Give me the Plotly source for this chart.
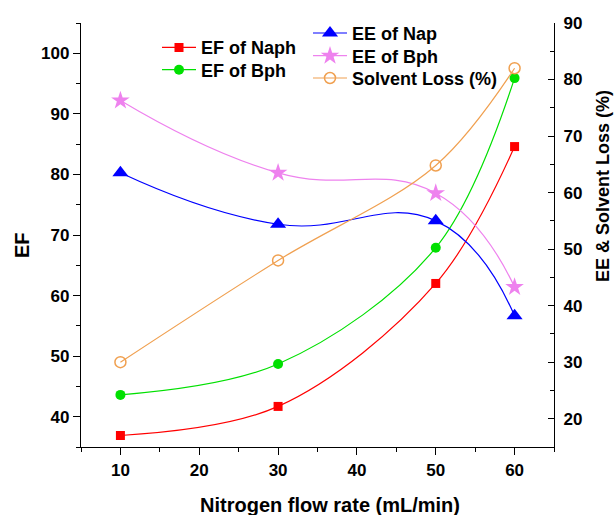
import plotly.graph_objects as go

flow = [10, 30, 50, 60]
ef_naph = [36.9, 41.7, 62.0, 84.6]
ef_bph = [43.6, 48.7, 67.9, 95.9]
ee_nap = [63.5, 54.4, 55.0, 38.2]
ee_bph = [76.3, 63.5, 59.9, 43.3]
solvent_loss = [30.0, 48.0, 64.8, 82.0]

x_ticks = [10, 20, 30, 40, 50, 60]
y1_ticks = [40, 50, 60, 70, 80, 90, 100]
y2_ticks = [20, 30, 40, 50, 60, 70, 80, 90]

W, H = 615, 515
L, R, T, B = 81, 554, 23, 447
FONT = "Liberation Sans, Arial, Helvetica, sans-serif"

fig = go.Figure()

def add(name, y, color, symbol, size, axis, legend, mline=None, smooth=1.0):
    fig.add_trace(go.Scatter(
        x=flow, y=y, name=name, mode="lines+markers", yaxis=axis, legend=legend,
        line=dict(color=color, width=1.2, shape="spline", smoothing=smooth),
        marker=dict(color=color, symbol=symbol, size=size,
                    line=dict(color=color, width=mline if mline else 0)),
    ))

add("EF of Naph", ef_naph, "#FF0000", "square", 9, "y", "legend")
add("EF of Bph", ef_bph, "#00E000", "circle", 10, "y", "legend2")
add("EE of Nap", ee_nap, "#0000FF", "triangle-up", 14, "y2", "legend3", smooth=1.3)
add("EE of Bph", ee_bph, "#EE82EE", "star", 14, "y2", "legend4", smooth=1.3)
add("Solvent Loss (%)", solvent_loss, "#F0A050", "circle-open", 11, "y2", "legend5", mline=1.5)

tickfont = dict(family=FONT, size=17, color="black", weight="bold")
legfont = dict(family=FONT, size=18, color="black", weight="bold")
titlefont = dict(family=FONT, size=20, color="black", weight="bold")

def px_x(px):
    return (px - L) / (R - L)

def px_y(py):
    return (B - py) / (B - T)

def leg(mx, my):
    return dict(x=px_x(mx - 20), y=px_y(my), xanchor="left", yanchor="middle",
                bgcolor="rgba(0,0,0,0)", font=legfont, itemwidth=34)

fig.update_layout(
    width=W, height=H,
    margin=dict(l=L, r=W - R, t=T, b=H - B, autoexpand=False),
    paper_bgcolor="white", plot_bgcolor="white",
    showlegend=True,
    xaxis=dict(range=[5, 65], tickvals=x_ticks, showgrid=False, zeroline=False,
               showline=True, linecolor="black", linewidth=1.3,
               ticks="outside", ticklen=7, tickwidth=1.3, tickcolor="black",
               tickfont=tickfont, automargin=False,
               minor=dict(ticks="outside", ticklen=4, tickwidth=1.3, tickcolor="black",
                          dtick=5, tick0=5, showgrid=False)),
    yaxis=dict(range=[35, 105], tickvals=y1_ticks, showgrid=False, zeroline=False,
               showline=True, linecolor="black", linewidth=1.3,
               ticks="outside", ticklen=7, tickwidth=1.3, tickcolor="black",
               tickfont=tickfont, automargin=False,
               minor=dict(ticks="outside", ticklen=4, tickwidth=1.3, tickcolor="black",
                          dtick=5, tick0=5, showgrid=False)),
    yaxis2=dict(range=[15, 90], tickvals=y2_ticks, overlaying="y", side="right",
                showgrid=False, zeroline=False, automargin=False,
                showline=True, linecolor="black", linewidth=1.3,
                ticks="inside", ticklen=6, tickwidth=1.3, tickcolor="black",
                tickfont=tickfont, ticklabelstandoff=5,
                minor=dict(ticks="inside", ticklen=4, tickwidth=1.3, tickcolor="black",
                           dtick=5, tick0=5, showgrid=False)),
    legend=leg(177, 47.7),
    legend2=leg(177, 70),
    legend3=leg(328, 33.3),
    legend4=leg(328, 56),
    legend5=leg(328, 78.3),
    annotations=[
        dict(text="EF", xref="paper", yref="paper", x=px_x(22), y=px_y(245),
             showarrow=False, textangle=-90, font=titlefont,
             xanchor="center", yanchor="middle"),
        dict(text="EE & Solvent Loss (%)", xref="paper", yref="paper",
             x=px_x(603), y=px_y(186), showarrow=False, textangle=-90,
             font=dict(family=FONT, size=18, color="black", weight="bold"),
             xanchor="center", yanchor="middle"),
        dict(text="Nitrogen flow rate (mL/min)", xref="paper", yref="paper",
             x=px_x(330), y=px_y(505), showarrow=False, font=titlefont,
             xanchor="center", yanchor="middle"),
    ],
)

fig.write_html("out.html")
